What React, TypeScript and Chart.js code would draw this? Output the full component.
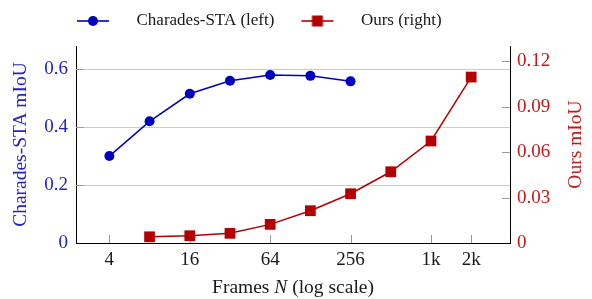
import React, { useEffect, useRef } from 'react';
import { Chart, registerables } from 'chart.js';

Chart.register(...registerables);

// ---- data ----
const xTickValues = [4, 16, 64, 256, 1024, 2048];
const xTickLabels = ['4', '16', '64', '256', '1k', '2k'];
const charadesFrames = [4, 8, 16, 32, 64, 128, 256];
const charadesMiou = [0.3, 0.42, 0.515, 0.56, 0.58, 0.577, 0.558];
const oursFrames = [8, 16, 32, 64, 128, 256, 512, 1024, 2048];
const oursMiou = [0.0041, 0.0048, 0.0064, 0.0123, 0.0213, 0.0325, 0.047, 0.0673, 0.1095];
const leftTicks = [0, 0.2, 0.4, 0.6];
const rightTicks = [0, 0.03, 0.06, 0.09, 0.12];
const legendLabels = ['Charades-STA (left)', 'Ours (right)'];

const FONT = "'Liberation Serif', 'Times New Roman', serif";
const BLUE = '#0000bf';
const BLUE_TEXT = '#2222c8';
const RED = '#b30000';
const RED_TEXT = '#c01a1a';
const TICK_SIZE = 19;
const LEGEND_SIZE = 17;
const TITLE_SIZE = 19.5;

function makeLegendImage(color: string, kind: 'circle' | 'rect') {
  const c = document.createElement('canvas');
  c.width = 68;
  c.height = 16;
  const g = c.getContext('2d')!;
  g.strokeStyle = color;
  g.lineWidth = 1.6;
  g.beginPath();
  g.moveTo(17, 8);
  g.lineTo(49, 8);
  g.stroke();
  g.fillStyle = color;
  if (kind === 'circle') {
    g.beginPath();
    g.arc(33, 8, 5, 0, Math.PI * 2);
    g.fill();
  } else {
    g.fillRect(27.5, 2.5, 11, 11);
  }
  return c;
}

const decorPlugin = {
  id: 'decor',
  afterLayout(chart: any) {
    const lg = chart.legend;
    if (lg) {
      lg.left = 50;
      lg.top = 2.5;
    }
  },
  beforeDatasetsDraw(chart: any) {
    const { ctx, chartArea: a, scales } = chart;
    ctx.save();
    ctx.strokeStyle = '#9a9a9a';
    ctx.lineWidth = 1;
    ctx.beginPath();
    xTickValues.forEach((v) => {
      const px = Math.round(scales.x.getPixelForValue(v)) + 0.5;
      ctx.moveTo(px, a.bottom);
      ctx.lineTo(px, a.bottom - 8);
    });
    leftTicks.slice(1).forEach((v) => {
      const py = Math.round(scales.y.getPixelForValue(v)) + 0.5;
      ctx.moveTo(a.left, py);
      ctx.lineTo(a.left + 8, py);
    });
    rightTicks.slice(1).forEach((v) => {
      const py = Math.round(scales.y1.getPixelForValue(v)) + 0.5;
      ctx.moveTo(a.right - 8, py);
      ctx.lineTo(a.right, py);
    });
    ctx.stroke();
    ctx.restore();
  },
  afterDraw(chart: any) {
    const { ctx, chartArea: a } = chart;
    ctx.save();
    // x axis title with italic N
    const parts: [string, string][] = [
      ['Frames ', `${TITLE_SIZE}px ${FONT}`],
      ['N', `italic ${TITLE_SIZE}px ${FONT}`],
      [' (log scale)', `${TITLE_SIZE}px ${FONT}`],
    ];
    let total = 0;
    parts.forEach(([t, f]) => {
      ctx.font = f;
      total += ctx.measureText(t).width;
    });
    let x = (a.left + a.right) / 2 - total / 2;
    ctx.fillStyle = '#1a1a1a';
    ctx.textBaseline = 'middle';
    ctx.textAlign = 'left';
    parts.forEach(([t, f]) => {
      ctx.font = f;
      ctx.fillText(t, x, 288);
      x += ctx.measureText(t).width;
    });
    // right axis title, reading bottom to top
    ctx.translate(575.5, (a.top + a.bottom) / 2);
    ctx.rotate(-Math.PI / 2);
    ctx.font = `${TITLE_SIZE}px ${FONT}`;
    ctx.fillStyle = RED_TEXT;
    ctx.textAlign = 'center';
    ctx.fillText('Ours mIoU', 0, 0);
    ctx.restore();
  },
};

export default function App() {
  const ref = useRef<HTMLCanvasElement | null>(null);

  useEffect(() => {
    document.body.style.margin = '0';
    const canvas = ref.current;
    if (!canvas) return;
    const blueImg = makeLegendImage(BLUE, 'circle');
    const redImg = makeLegendImage(RED, 'rect');

    const chart = new Chart(canvas, {
      type: 'line',
      data: {
        datasets: [
          {
            label: legendLabels[0],
            data: charadesFrames.map((f, i) => ({ x: f, y: charadesMiou[i] })),
            yAxisID: 'y',
            borderColor: BLUE,
            backgroundColor: BLUE,
            borderWidth: 1.5,
            pointStyle: 'circle',
            pointRadius: 5,
            pointBorderWidth: 0,
            pointBackgroundColor: BLUE,
            tension: 0,
          },
          {
            label: legendLabels[1],
            data: oursFrames.map((f, i) => ({ x: f, y: oursMiou[i] })),
            yAxisID: 'y1',
            borderColor: RED,
            backgroundColor: RED,
            borderWidth: 1.5,
            pointStyle: 'rect',
            pointRadius: 7.6,
            pointBorderWidth: 0,
            pointBackgroundColor: RED,
            tension: 0,
          },
        ],
      },
      options: {
        responsive: false,
        animation: false,
        layout: { padding: { top: 9, left: 0, right: 0, bottom: 0 } },
        plugins: {
          tooltip: { enabled: false },
          legend: {
            display: true,
            position: 'top',
            align: 'start',
            labels: {
              usePointStyle: true,
              pointStyleWidth: 68,
              padding: 10,
              color: '#1a1a1a',
              font: { family: FONT, size: LEGEND_SIZE },
              generateLabels: () => [
                {
                  text: legendLabels[0],
                  pointStyle: blueImg as any,
                  fillStyle: BLUE,
                  strokeStyle: BLUE,
                  lineWidth: 0,
                  hidden: false,
                  datasetIndex: 0,
                  fontColor: '#1a1a1a',
                },
                {
                  text: legendLabels[1],
                  pointStyle: redImg as any,
                  fillStyle: RED,
                  strokeStyle: RED,
                  lineWidth: 0,
                  hidden: false,
                  datasetIndex: 1,
                  fontColor: '#1a1a1a',
                },
              ],
            },
          },
        },
        scales: {
          x: {
            type: 'logarithmic',
            min: 2.25,
            max: 4000,
            afterBuildTicks: (scale: any) => {
              scale.ticks = xTickValues.map((v) => ({ value: v }));
            },
            afterFit: (scale: any) => {
              scale.height = 56;
            },
            ticks: {
              autoSkip: false,
              maxRotation: 0,
              padding: 6,
              color: '#1a1a1a',
              font: { family: FONT, size: TICK_SIZE },
              callback: (v: any) => {
                const i = xTickValues.indexOf(Number(v));
                return i >= 0 ? xTickLabels[i] : '';
              },
            },
            grid: { drawOnChartArea: false, drawTicks: false },
            border: { display: true, color: '#000', width: 1 },
            title: { display: false },
          },
          y: {
            type: 'linear',
            position: 'left',
            min: 0,
            max: 0.68,
            afterBuildTicks: (scale: any) => {
              scale.ticks = leftTicks.map((v) => ({ value: v }));
            },
            afterFit: (scale: any) => {
              scale.width = 76;
            },
            ticks: {
              padding: 8,
              color: BLUE_TEXT,
              font: { family: FONT, size: TICK_SIZE },
              callback: (v: any) => (Number(v) === 0 ? '0' : Number(v).toFixed(1)),
            },
            grid: {
              drawTicks: false,
              color: (c: any) => (c.tick && c.tick.value === 0 ? 'rgba(0,0,0,0)' : '#cccccc'),
              lineWidth: 1,
            },
            border: { display: true, color: '#000', width: 1 },
            title: {
              display: true,
              text: 'Charades-STA mIoU',
              color: BLUE_TEXT,
              font: { family: FONT, size: TITLE_SIZE },
              padding: { top: 9, bottom: 0 },
            },
          },
          y1: {
            type: 'linear',
            position: 'right',
            min: 0,
            max: 0.13,
            afterBuildTicks: (scale: any) => {
              scale.ticks = rightTicks.map((v) => ({ value: v }));
            },
            afterFit: (scale: any) => {
              scale.width = 82;
            },
            ticks: {
              padding: 7,
              color: RED_TEXT,
              font: { family: FONT, size: TICK_SIZE },
              callback: (v: any) => (Number(v) === 0 ? '0' : Number(v).toFixed(2)),
            },
            grid: { drawOnChartArea: false, drawTicks: false },
            border: { display: true, color: '#000', width: 1 },
            title: { display: false },
          },
        },
      },
      plugins: [decorPlugin],
    });

    return () => {
      chart.destroy();
    };
  }, []);

  return (
    <div style={{ width: 592, height: 299 }}>
      <canvas ref={ref} width={592} height={299} style={{ display: 'block' }} />
    </div>
  );
}
